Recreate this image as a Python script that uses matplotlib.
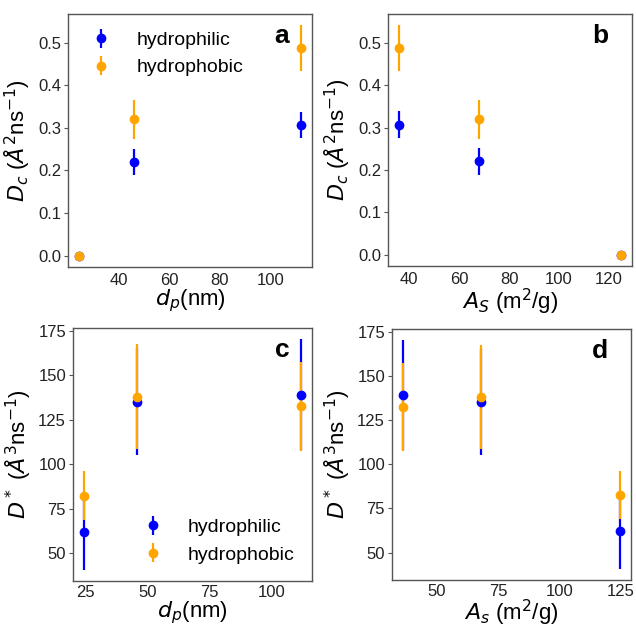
import numpy as np
import matplotlib
matplotlib.use("Agg")
import matplotlib.pyplot as plt

plt.rcParams['font.family'] = ['Liberation Sans', 'DejaVu Sans']
plt.rcParams['mathtext.fontset'] = 'dejavusans'

# Data
dp = [24.5, 46, 112]            # pore diameter (nm)
As = [124.8, 68, 36]            # surface area (m^2/g)

dc_phil = [0.0, 0.22, 0.307]
dc_phil_err = [0.0, 0.031, 0.031]
dc_phob = [0.0, 0.32, 0.487]
dc_phob_err = [0.0, 0.046, 0.054]

ds_phil = [62, 135, 139]
ds_phil_err = [21, 30, 31]
ds_phob = [82.5, 138, 132.5]
ds_phob_err = [13.5, 29.5, 25]

c_phil = 'blue'
c_phob = 'orange'

W, H = 636, 629
fig = plt.figure(figsize=(W / 100, H / 100), dpi=100)

def box(l, t, r, b):
    return [l / W, 1 - b / H, (r - l) / W, (b - t) / H]

axa = fig.add_axes(box(68, 14, 312, 267))
axb = fig.add_axes(box(388, 14, 632, 266))
axc = fig.add_axes(box(73, 328, 312, 581))
axd = fig.add_axes(box(392, 329, 631, 580))

ek = dict(fmt='o', ms=6, elinewidth=1.6, capsize=0, linestyle='none')

def panel(ax, x, y1, e1, y2, e2, letter, xlabel, ylabel, xticks, legend_loc=None,
          legend_kw=None, xlpad=0, xtpad=4):
    ax.errorbar(x, y1, yerr=e1, color=c_phil, label='hydrophilic', **ek)
    ax.errorbar(x, y2, yerr=e2, color=c_phob, label='hydrophobic', **ek)
    ax.set_xticks(xticks)
    ax.set_xlabel(xlabel, fontsize=16, labelpad=xlpad)
    ax.set_ylabel(ylabel, fontsize=16, labelpad=4)
    ax.tick_params(axis='both', labelsize=12, colors='#222222')
    ax.tick_params(axis='x', length=0, pad=xtpad)
    ax.tick_params(axis='y', length=3, width=0.8, color='#555555', pad=2)
    for s in ax.spines.values():
        s.set_color('#555555')
        s.set_linewidth(1.0)
    ax.text(0.905, 0.962, letter, transform=ax.transAxes, ha='right', va='top',
            fontsize=19, fontweight='bold')
    if legend_loc is not None:
        ax.legend(loc=legend_loc, frameon=False, fontsize=14, handletextpad=0.8,
                  **(legend_kw or {}))

ylab_dc = r'$D_c$ ($\AA^2$ns$^{-1}$)'
ylab_ds = r'$D^*$ ($\AA^3$ns$^{-1}$)'

panel(axa, dp, dc_phil, dc_phil_err, dc_phob, dc_phob_err, 'a',
      r'$d_p$(nm)', ylab_dc, [40, 60, 80, 100], 'upper left',
      dict(bbox_to_anchor=(-0.015, 1.0)))
panel(axb, As, dc_phil, dc_phil_err, dc_phob, dc_phob_err, 'b',
      r'$A_S$ (m$^2$/g)', ylab_dc, [40, 60, 80, 100, 120])
panel(axc, dp, ds_phil, ds_phil_err, ds_phob, ds_phob_err, 'c',
      r'$d_p$(nm)', ylab_ds, [25, 50, 75, 100], 'lower right',
      dict(bbox_to_anchor=(1.0, 0.0)), xlpad=-1, xtpad=3)
panel(axd, As, ds_phil, ds_phil_err, ds_phob, ds_phob_err, 'd',
      r'$A_s$ (m$^2$/g)', ylab_ds, [50, 75, 100, 125], xlpad=-1, xtpad=3)

fig.savefig('out.png', dpi=100)
